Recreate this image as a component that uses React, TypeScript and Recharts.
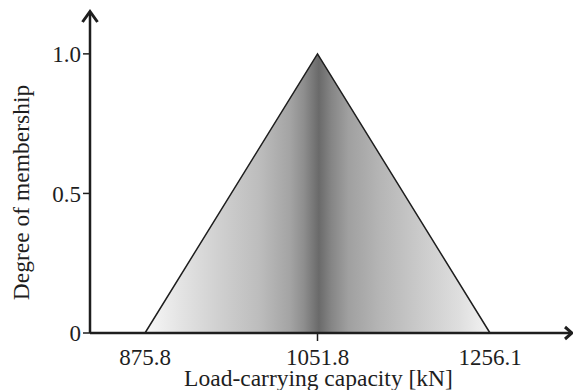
import React from 'react';
import { AreaChart, Area, XAxis, YAxis, Label } from 'recharts';

const capacities = ['875.8', '1051.8', '1256.1'];
const membership = [0, 1, 0];
const yTicks = [0, 0.5, 1];
const peakLabel = '1051.8';

const data = capacities.map((c, i) => ({ capacity: c, degree: membership[i] }));

// grey bands of the fill, light at the ends and dark round the peak
const shadeStops = [
  { at: 0, color: '#f8f8f8' },
  { at: 0.1, color: '#e4e4e4' },
  { at: 0.22, color: '#cfcfcf' },
  { at: 0.33, color: '#bdbdbd' },
  { at: 0.42, color: '#a4a4a4' },
  { at: 0.46, color: '#8e8e8e' },
  { at: 0.504, color: '#6a6a6a' },
  { at: 0.54, color: '#858585' },
  { at: 0.59, color: '#a0a0a0' },
  { at: 0.68, color: '#b5b5b5' },
  { at: 0.8, color: '#cbcbcb' },
  { at: 0.91, color: '#dedede' },
  { at: 1, color: '#f4f4f4' },
];

const FONT = 'Liberation Serif';
const INK = '#1e1e1e';

const XTick = (props: any) => {
  const { x, y, payload } = props;
  return (
    <g>
      {payload.value === peakLabel && (
        <line x1={x} y1={y - 8} x2={x} y2={y} stroke={INK} strokeWidth={1.5} />
      )}
      <text x={x} y={y + 24} textAnchor="middle" fill={INK} style={{ fontSize: 23, fontFamily: FONT }}>
        {payload.value}
      </text>
    </g>
  );
};

const XTitle = (props: any) => {
  const vb = props.viewBox || {};
  return (
    <text x={vb.x + vb.width / 2 - 12} y={386} textAnchor="middle" fill={INK} style={{ fontSize: 23.5, fontFamily: FONT }}>
      Load-carrying capacity [kN]
    </text>
  );
};

const YTitle = (props: any) => {
  const vb = props.viewBox || {};
  const cx = 29;
  const cy = vb.y + vb.height / 2 + 20;
  return (
    <text x={cx} y={cy} transform={`rotate(-90, ${cx}, ${cy})`} textAnchor="middle" fill={INK} style={{ fontSize: 23.5, fontFamily: FONT }}>
      Degree of membership
    </text>
  );
};

export default function App() {
  return (
    <div style={{ position: 'absolute', left: 0, top: 0, background: '#fff', fontFamily: FONT }}>
      <AreaChart width={573} height={390} data={data} margin={{ top: 12, right: 2, left: 0, bottom: 0 }}>
        <defs>
          <linearGradient id="shade" x1="0" y1="0" x2="1" y2="0">
            {shadeStops.map((s) => (
              <stop key={s.at} offset={s.at} stopColor={s.color} />
            ))}
          </linearGradient>
          <marker id="arrowUp" markerUnits="userSpaceOnUse" markerWidth="24" markerHeight="24" refX="12" refY="12" orient="0">
            <path d="M4.5 22 L12 11.5 L19.5 22" fill="none" stroke={INK} strokeWidth={3} />
          </marker>
          <marker id="arrowRight" markerUnits="userSpaceOnUse" markerWidth="24" markerHeight="24" refX="12" refY="12" orient="0">
            <path d="M6 6 L13 12 L6 18" fill="none" stroke={INK} strokeWidth={3} />
          </marker>
        </defs>
        <XAxis
          dataKey="capacity"
          height={57}
          padding={{ left: 55, right: 81 }}
          tickLine={false}
          tick={<XTick />}
          interval={0}
          axisLine={{ stroke: INK, strokeWidth: 2.5, markerEnd: 'url(#arrowRight)' }}
        >
          <Label content={<XTitle />} />
        </XAxis>
        <YAxis
          width={90}
          type="number"
          domain={[0, 1.15]}
          ticks={yTicks}
          tickSize={7}
          tickMargin={2}
          tickFormatter={(v: number) => (v === 0 ? '0' : v.toFixed(1))}
          tick={{ fill: INK, fontSize: 23, style: { fontFamily: FONT } }}
          tickLine={{ stroke: INK, strokeWidth: 1.5 }}
          axisLine={{ stroke: INK, strokeWidth: 2.5, markerStart: 'url(#arrowUp)' }}
        >
          <Label content={<YTitle />} />
        </YAxis>
        <Area
          type="linear"
          dataKey="degree"
          stroke={INK}
          strokeWidth={1.5}
          fill="url(#shade)"
          fillOpacity={1}
          isAnimationActive={false}
          dot={false}
          activeDot={false}
        />
      </AreaChart>
    </div>
  );
}
